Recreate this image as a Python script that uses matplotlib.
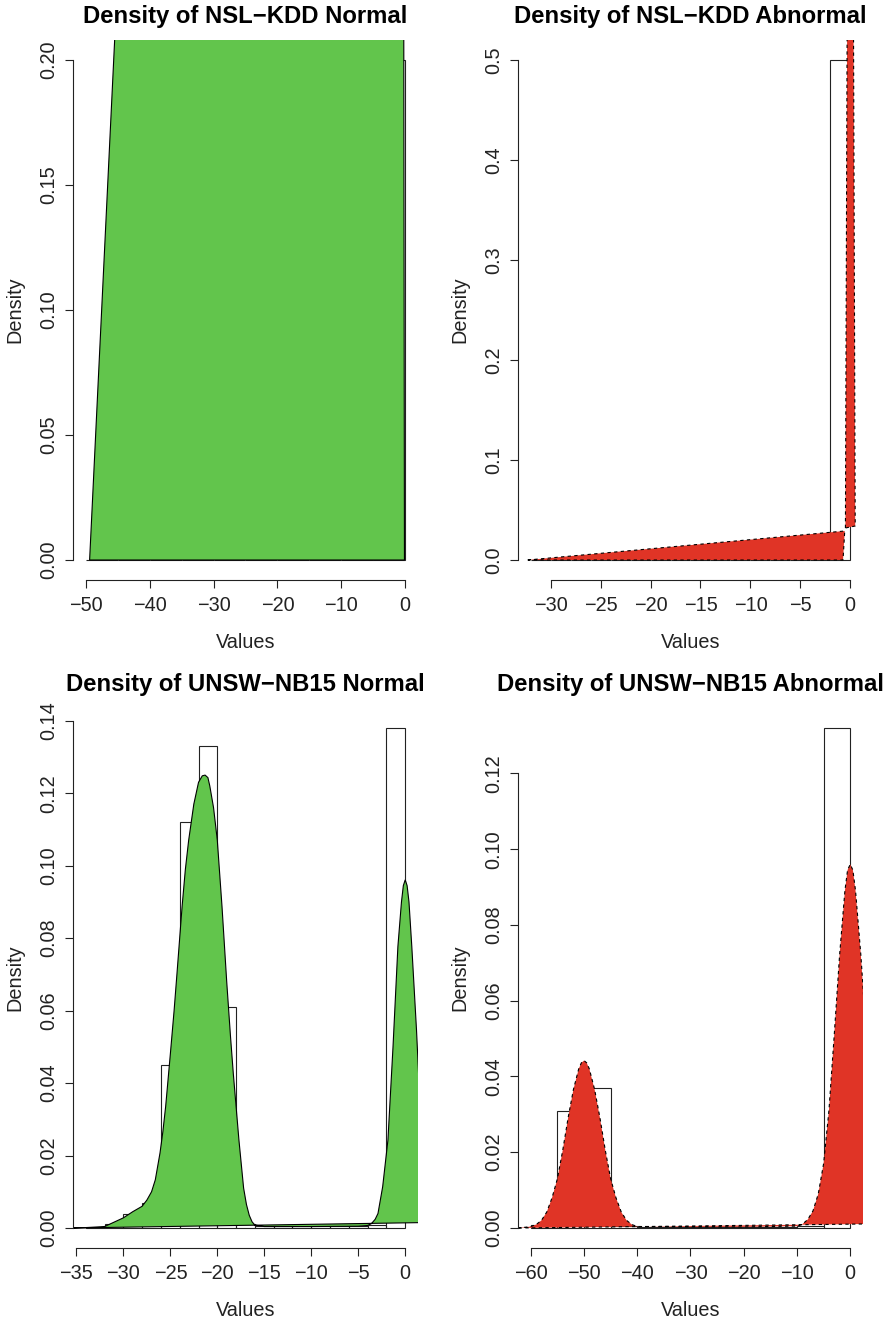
import matplotlib
matplotlib.use("Agg")
import matplotlib.pyplot as plt

plt.rcParams['font.family'] = ['Liberation Sans', 'DejaVu Sans']

GREEN = '#62C54C'
RED = '#E03426'

# ---- NSL-KDD Normal ----
nsl_norm_breaks = [-50, -45, -40, -35, -30, -25, -20, -15, -10, -5, 0]
nsl_norm_hist = [0.0, 0.0, 0.0, 0.0, 0.0, 0.0, 0.0, 0.0, 0.0, 0.2]
nsl_norm_dx = [-49.4, -44.5, -0.25, -0.12]
nsl_norm_dy = [0.0, 0.26, 0.26, 0.0]

# ---- NSL-KDD Abnormal ----
nsl_abn_breaks = [-32, -30, -28, -26, -24, -22, -20, -18, -16, -14, -12, -10, -8, -6, -4, -2, 0]
nsl_abn_hist = [0.0, 0.0, 0.0, 0.0, 0.0, 0.0, 0.0, 0.0, 0.0, 0.0, 0.0, 0.0, 0.0, 0.0, 0.0, 0.5]
nsl_abn_tail_x = [-32.3, -0.55, -0.72]
nsl_abn_tail_y = [0.0, 0.029, 0.0]
nsl_abn_spike_x = [-0.48, -0.3, 0.32, 0.5]
nsl_abn_spike_y = [0.032, 0.56, 0.56, 0.034]

# ---- UNSW-NB15 Normal ----
unsw_norm_breaks = [-34, -32, -30, -28, -26, -24, -22, -20, -18, -16, -14, -12, -10, -8, -6, -4, -2, 0]
unsw_norm_hist = [0.0003, 0.001, 0.004, 0.007, 0.045, 0.112, 0.133, 0.061, 0.001,
                  0.0005, 0.0005, 0.0005, 0.0005, 0.0005, 0.0005, 0.0008, 0.138]
unsw_norm_dx = [-35.5, -34.0, -32.0, -30.0, -29.0, -28.0, -27.5, -27.0, -26.6, -26.1, -25.8, -25.5,
                -25.0, -24.6, -24.3, -23.75, -23.4, -23.05, -22.5, -22.0, -21.6, -21.3, -21.0, -20.8,
                -20.4, -20.0, -19.5, -19.0, -18.6, -18.3, -17.7, -17.2, -16.9, -16.6, -16.3, -16.0,
                -15.0, -10.0, -5.0, -4.0, -3.6, -3.2, -2.9, -2.4, -1.84, -1.3, -0.78, -0.4, -0.2,
                0.0, 0.2, 0.4, 0.7, 1.2, 1.45, 2.0, 3.0, 4.5]
unsw_norm_dy = [0.0, 0.0001, 0.0004, 0.0028, 0.0045, 0.0060, 0.0077, 0.0100, 0.0133, 0.0207, 0.0265, 0.0335,
                0.048, 0.060, 0.070, 0.0887, 0.099, 0.107, 0.117, 0.123, 0.1248, 0.125, 0.1243, 0.122,
                0.116, 0.107, 0.0887, 0.068, 0.053, 0.0427, 0.0243, 0.0110, 0.0065, 0.0035, 0.0017, 0.0008,
                0.0004, 0.0004, 0.0005, 0.0007, 0.0012, 0.0024, 0.004, 0.0114, 0.0243, 0.050, 0.0777, 0.090, 0.0945,
                0.0961, 0.0945, 0.090, 0.0777, 0.0547, 0.041, 0.020, 0.004, 0.0016]

# ---- UNSW-NB15 Abnormal ----
unsw_abn_breaks = [-60, -55, -50, -45, -40, -35, -30, -25, -20, -15, -10, -5, 0]
unsw_abn_hist = [0.0008, 0.031, 0.037, 0.0006, 0.0003, 0.0003, 0.0003, 0.0003, 0.0003, 0.0003, 0.0005, 0.132]
unsw_abn_dx = [-62.5, -61, -60, -59, -58, -57, -56, -55, -54, -53, -52, -51, -50.5, -50, -49.5, -49, -48, -47,
               -46, -45, -44, -43, -42, -41, -40, -30, -20, -10, -9, -8, -7, -6, -5, -4, -3, -2,
               -1, -0.5, 0, 0.5, 1, 2, 3, 4, 5]
unsw_abn_dy = [0.0, 0.0002, 0.0004, 0.0009, 0.0020, 0.0042, 0.0080, 0.0130, 0.0205, 0.0290, 0.0365,
               0.0420, 0.0436, 0.0442, 0.0436, 0.0420, 0.0365, 0.0290, 0.0205, 0.0130, 0.0080, 0.0042,
               0.0020, 0.0009, 0.0004, 0.0003, 0.0003, 0.0005, 0.0010, 0.0022, 0.0045, 0.0090, 0.0170,
               0.0310, 0.0510, 0.0720, 0.0890, 0.0945, 0.0960, 0.0945, 0.0890, 0.0720, 0.0510, 0.0200, 0.0011]

panels = [
    dict(title='Density of NSL\u2212KDD Normal', breaks=nsl_norm_breaks, hist=nsl_norm_hist,
         polys=[(nsl_norm_dx, nsl_norm_dy)], color=GREEN, dashed=False,
         xticks=[-50, -40, -30, -20, -10, 0], yticks=[0.0, 0.05, 0.10, 0.15, 0.20],
         ylabels=['0.00', '0.05', '0.10', '0.15', '0.20']),
    dict(title='Density of NSL\u2212KDD Abnormal', breaks=nsl_abn_breaks, hist=nsl_abn_hist,
         polys=[(nsl_abn_tail_x, nsl_abn_tail_y), (nsl_abn_spike_x, nsl_abn_spike_y)],
         color=RED, dashed=True,
         xticks=[-30, -25, -20, -15, -10, -5, 0], yticks=[0.0, 0.1, 0.2, 0.3, 0.4, 0.5],
         ylabels=['0.0', '0.1', '0.2', '0.3', '0.4', '0.5']),
    dict(title='Density of UNSW\u2212NB15 Normal', breaks=unsw_norm_breaks, hist=unsw_norm_hist,
         polys=[(unsw_norm_dx, unsw_norm_dy)], color=GREEN, dashed=False,
         xticks=[-35, -30, -25, -20, -15, -10, -5, 0],
         yticks=[0.0, 0.02, 0.04, 0.06, 0.08, 0.10, 0.12, 0.14],
         ylabels=['0.00', '0.02', '0.04', '0.06', '0.08', '0.10', '0.12', '0.14']),
    dict(title='Density of UNSW\u2212NB15 Abnormal', breaks=unsw_abn_breaks, hist=unsw_abn_hist,
         polys=[(unsw_abn_dx, unsw_abn_dy)], color=RED, dashed=True,
         xticks=[-60, -50, -40, -30, -20, -10, 0],
         yticks=[0.0, 0.02, 0.04, 0.06, 0.08, 0.10, 0.12],
         ylabels=['0.00', '0.02', '0.04', '0.06', '0.08', '0.10', '0.12']),
]

W, H = 895, 1325
fig = plt.figure(figsize=(W / 100, H / 100), dpi=100)

# plot regions in pixels: left, top
lefts = [73, 518, 73, 518]
tops = [40, 40, 708, 708]
pw, ph = 345, 540

for p, l, t in zip(panels, lefts, tops):
    ax = fig.add_axes([l / W, 1 - (t + ph) / H, pw / W, ph / H])
    br = p['breaks']
    widths = [b - a for a, b in zip(br[:-1], br[1:])]
    ax.bar(br[:-1], p['hist'], width=widths, align='edge', fill=False,
           edgecolor='#222222', linewidth=0.8, zorder=1)
    for px, py in p['polys']:
        if p['dashed']:
            ax.fill(px, py, facecolor=p['color'], edgecolor='black', linewidth=0.8,
                    linestyle=(0, (3, 3)), zorder=2)
        else:
            ax.fill(px, py, facecolor=p['color'], edgecolor='black', linewidth=0.8, zorder=2)

    xr = br[-1] - br[0]
    ax.set_xlim(br[0] - 0.04 * xr, br[-1] + 0.04 * xr)
    ymax = max(p['hist'])
    ax.set_ylim(-0.04 * ymax, 1.04 * ymax)

    for s in ['top', 'right']:
        ax.spines[s].set_visible(False)
    ax.spines['left'].set_bounds(p['yticks'][0], p['yticks'][-1])
    ax.spines['bottom'].set_bounds(p['xticks'][0], p['xticks'][-1])
    for s in ['left', 'bottom']:
        ax.spines[s].set_linewidth(0.8)
        ax.spines[s].set_color('#222222')

    ax.set_xticks(p['xticks'])
    ax.set_xticklabels([str(v).replace('-', '\u2212') for v in p['xticks']])
    ax.set_yticks(p['yticks'])
    ax.set_yticklabels(p['ylabels'], rotation=90, va='center')
    ax.tick_params(direction='out', length=5.8, width=0.8, color='#222222',
                   labelsize=14.3, labelcolor='#222222')
    ax.tick_params(axis='x', pad=6)
    ax.tick_params(axis='y', pad=5)

    ax.set_xlabel('Values', fontsize=14.3, color='#222222')
    ax.xaxis.label.set_verticalalignment('center')
    ax.xaxis.set_label_coords(0.5, -(642 - 580) / ph)
    ax.set_ylabel('Density', fontsize=14.3, color='#222222')
    ax.yaxis.label.set_verticalalignment('center')
    ax.yaxis.set_label_coords(-58 / pw, 0.5)

    ax.set_title(p['title'], fontsize=17.2, fontweight='bold', pad=12)

fig.savefig('out.png', dpi=100)
